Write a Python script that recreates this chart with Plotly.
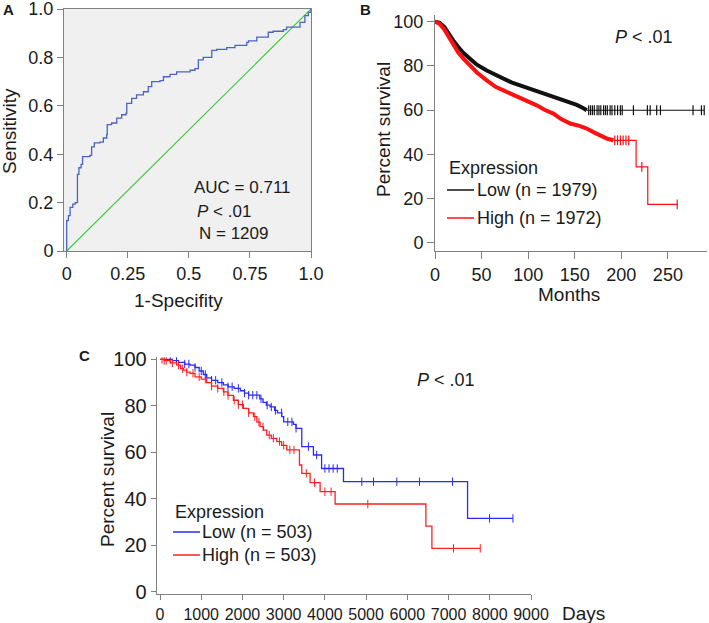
import plotly.graph_objects as go

W, H = 709, 623
FONT = "Liberation Sans, Arial, sans-serif"

# ---- A: ROC curve ----
roc_fpr = [0, 0, 0.007, 0.014, 0.025, 0.035, 0.044, 0.05, 0.059, 0.065, 0.095, 0.102, 0.113,
           0.136, 0.15, 0.164, 0.166, 0.184, 0.205, 0.225, 0.243, 0.246, 0.266, 0.286, 0.314,
           0.334, 0.348, 0.382, 0.396, 0.423, 0.45, 0.505, 0.525, 0.539, 0.559, 0.594, 0.614,
           0.655, 0.689, 0.737, 0.744, 0.778, 0.825, 0.845, 0.887, 0.9, 0.955, 0.975, 0.989, 1.0]
roc_tpr = [0, 0.126, 0.146, 0.18, 0.194, 0.2, 0.317, 0.344, 0.358, 0.39, 0.395, 0.43, 0.447,
           0.45, 0.467, 0.481, 0.522, 0.529, 0.549, 0.563, 0.57, 0.61, 0.631, 0.645, 0.658,
           0.679, 0.7, 0.704, 0.72, 0.73, 0.74, 0.747, 0.754, 0.79, 0.8, 0.829, 0.833,
           0.84, 0.85, 0.862, 0.868, 0.884, 0.904, 0.908, 0.915, 0.925, 0.945, 0.973, 0.986, 1.0]

# ---- B: survival in months ----
b_low_t = [0, 5, 10, 15, 19.7, 25, 30, 37.6, 45, 55.5, 65, 73.4, 82, 91.3, 100, 109.2, 118,
           127.1, 135, 141.4, 152.2, 159.4, 162.9]
b_low_s = [100, 99.5, 97.5, 94, 91.4, 88.5, 86, 83.2, 80.5, 77.9, 75.8, 74.2, 72.5, 71.1, 69.8,
           68.9, 67.5, 65.9, 65, 63.8, 62.3, 60.8, 59.9]
b_low_tail_t = [162.9, 289]
b_low_tail_s = [59.9, 59.9]
b_low_cens = [165, 167, 169, 171, 174, 176, 178, 181, 183, 185, 188, 190, 193, 196, 199, 201,
              213, 228, 231, 238, 242, 277, 286, 289]

b_high_t = [0, 5, 10, 15, 19.7, 25, 30, 37.6, 45, 55.5, 65, 73.4, 82, 91.3, 100, 109.2, 118,
            127.1, 135, 145.1, 155, 162.9, 170, 177.2, 185, 191.5]
b_high_s = [100, 99, 96.5, 93, 89.9, 86, 83.5, 80.2, 77, 73.4, 70.5, 68.9, 67.3, 65.9, 64, 62.1,
            60, 58.4, 56, 53.9, 52.8, 51.6, 50, 48.6, 47, 46.3]
b_high_tail_t = [191.5, 215.9, 228.4, 260.7]
b_high_tail_s = [46.3, 34.3, 17.3, 17.3]
b_high_cens = [193, 196, 199, 202, 205, 208, 222, 260]

# ---- C: survival in days ----
c_low_t = [0, 150, 300, 450, 600, 728, 850, 950, 1050, 1133, 1250, 1400, 1538, 1650, 1800,
           1950, 2050, 2150, 2347, 2420, 2500, 2580, 2671, 2780, 2850, 2954, 3000, 3237, 3300,
           3439, 3722, 3920, 4451, 7461, 8562]
c_low_s = [100, 100, 99.5, 98.7, 98, 97.5, 96.5, 95, 93.5, 92, 91, 90, 89, 88.2, 87.5, 86.5,
           85.5, 84.6, 84.6, 83, 81.5, 80.3, 79.5, 78, 77, 75.3, 73.1, 72, 70.3, 62.4, 58.8,
           53, 47.3, 31.5, 31.5]
c_low_cens = [250, 400, 600, 700, 850, 1000, 1100, 1250, 1350, 1500, 1650, 1750, 1900, 2050,
              2150, 2250, 2350, 2450, 2600, 2700, 2800, 2950, 3100, 3200, 3300, 3600, 3800,
              4000, 4100, 4200, 4300, 4896, 5179, 5745, 6295, 7097, 7995, 8562]

c_high_t = [0, 100, 250, 405, 500, 567, 650, 728, 850, 1000, 1133, 1250, 1400, 1538, 1650,
            1780, 1900, 2023, 2150, 2266, 2350, 2428, 2510, 2590, 2700, 2833, 2950, 3075, 3383,
            3439, 3641, 3884, 4248, 6450, 6596, 7769]
c_high_s = [100, 99.5, 98.5, 97.5, 96, 95.4, 94.5, 94, 92.5, 91.5, 90, 88.5, 87.5, 86, 84.5,
            82.4, 80.5, 78.9, 77, 75.3, 73, 71, 69.5, 67.4, 66, 64.6, 63, 61, 54.5, 50.9, 46.9,
            43, 37.7, 28.2, 18.6, 18.6]
c_high_cens = [50, 100, 150, 300, 450, 550, 650, 800, 950, 1100, 1250, 1400, 1550, 1650, 1800,
               1900, 2000, 2150, 2300, 2400, 2500, 2650, 2750, 2900, 3000, 3150, 3250, 3550,
               3750, 4000, 4150, 5041, 7121, 7769]


def step_at(ts, ss, t):
    v = ss[0]
    for x, y in zip(ts, ss):
        if x <= t:
            v = y
    return v


def px(x):
    return x / W


def py(y):
    return 1 - y / H


fig = go.Figure()

# A
fig.add_trace(go.Scatter(x=[0, 1], y=[0, 1], mode="lines", line=dict(color="#3ccc3c", width=1.2),
                         xaxis="x", yaxis="y", showlegend=False))
fig.add_trace(go.Scatter(x=roc_fpr, y=roc_tpr, mode="lines", line=dict(color="#4a63c4", width=1.3, shape="hv"),
                         xaxis="x", yaxis="y", showlegend=False))

# B
for t, s, tt, ts, cens, col in [(b_low_t, b_low_s, b_low_tail_t, b_low_tail_s, b_low_cens, "#111111"),
                                (b_high_t, b_high_s, b_high_tail_t, b_high_tail_s, b_high_cens, "#ff1010")]:
    fig.add_trace(go.Scatter(x=tt, y=ts, mode="lines", line=dict(color=col, width=1.2, shape="hv"),
                             xaxis="x2", yaxis="y2", showlegend=False))
    fig.add_trace(go.Scatter(x=t, y=s, mode="lines", line=dict(color=col, width=4),
                             xaxis="x2", yaxis="y2", showlegend=False))
    fig.add_trace(go.Scatter(x=cens, y=[step_at(tt, ts, c) for c in cens], mode="markers",
                             marker=dict(symbol="line-ns-open", size=7, color=col, line=dict(color=col, width=1.2)),
                             xaxis="x2", yaxis="y2", showlegend=False))

# C
for t, s, cens, col in [(c_low_t, c_low_s, c_low_cens, "#2a2aff"),
                        (c_high_t, c_high_s, c_high_cens, "#ff2020")]:
    fig.add_trace(go.Scatter(x=t, y=s, mode="lines", line=dict(color=col, width=1.3, shape="hv"),
                             xaxis="x3", yaxis="y3", showlegend=False))
    fig.add_trace(go.Scatter(x=cens, y=[step_at(t, s, c) for c in cens], mode="markers",
                             marker=dict(symbol="line-ns-open", size=6, color=col, line=dict(color=col, width=1)),
                             xaxis="x3", yaxis="y3", showlegend=False))

tickfont = dict(family=FONT, size=18, color="#1a1a1a")
axcommon = dict(showgrid=False, zeroline=False, ticks="outside", tickcolor="#808080", automargin=False,
                linecolor="#808080", showline=True, tickfont=tickfont, ticklabeloverflow="allow")

fig.update_layout(
    width=W, height=H, margin=dict(l=0, r=0, t=0, b=0, autoexpand=False),
    paper_bgcolor="white", plot_bgcolor="white",
    font=dict(family=FONT, size=18, color="#1a1a1a"),
    xaxis=dict(domain=[px(64), px(311)], range=[-0.011, 1.0], tickvals=[0, 0.25, 0.5, 0.75, 1.0],
               ticktext=["0", "0.25", "0.5", "0.75", "1.0"], mirror=True, ticklen=6, anchor="y", **axcommon),
    yaxis=dict(domain=[py(251), py(9)], range=[0, 1.0], tickvals=[0, 0.2, 0.4, 0.6, 0.8, 1.0],
               ticktext=["0", "0.2", "0.4", "0.6", "0.8", "1.0"], mirror=True, ticklen=6, anchor="x", **axcommon),
    xaxis2=dict(domain=[px(435), px(707)], range=[0, 292], tickvals=[0, 50, 100, 150, 200, 250],
                ticklen=7, anchor="y2", **axcommon),
    yaxis2=dict(domain=[py(251), py(15)], range=[-3.8, 103], tickvals=[0, 20, 40, 60, 80, 100],
                ticklen=7, anchor="x2", **axcommon),
    xaxis3=dict(domain=[px(156.7), px(531)], range=[-80, 9000], tickvals=list(range(0, 9001, 1000)),
                ticklen=5, anchor="y3", **axcommon),
    yaxis3=dict(domain=[py(594.3), py(357.3)], range=[-1.2, 100.9], tickvals=[0, 20, 40, 60, 80, 100],
                ticklen=5, anchor="x3", **axcommon),
)
fig.update_xaxes(tickfont=dict(size=16), selector=dict(anchor="y3"))
fig.update_yaxes(tickfont=dict(size=20), selector=dict(anchor="x3"))

# A box background
fig.add_shape(type="rect", xref="x domain", yref="y domain", x0=0, x1=1, y0=0, y1=1,
              fillcolor="#f0f0f0", line=dict(width=0), layer="below")

ann = []


def text(x, y, s, size=18, xanchor="center", angle=0, bold=False):
    ann.append(dict(x=px(x), y=py(y), xref="paper", yref="paper", text=("<b>%s</b>" % s) if bold else s,
                    showarrow=False, xanchor=xanchor, yanchor="middle", textangle=angle,
                    font=dict(family=FONT, size=size, color="#1a1a1a")))


text(8, 10, "A", 15, bold=True)
text(365, 10, "B", 15, bold=True)
text(84, 355, "C", 15, bold=True)

text(9, 131, "Sensitivity", 19, angle=-90)
text(178, 300, "1-Specifity", 19)
text(192, 187, "AUC = 0.711", 17, xanchor="left")
text(195, 211, "<i>P</i> < .01", 17, xanchor="left")
text(197, 233, "N = 1209", 17, xanchor="left")

text(383, 130, "Percent survival", 19, angle=-90)
text(569, 295, "Months", 19)
text(613, 37, "<i>P</i> < .01", 18, xanchor="left")
text(447, 168, "Expression", 18, xanchor="left")
text(475, 190, "Low (n = 1979)", 18, xanchor="left")
text(475, 218, "High (n = 1972)", 18, xanchor="left")

text(107, 479, "Percent survival", 19, angle=-90)
text(560, 613, "Days", 19, xanchor="left")
text(415, 380, "<i>P</i> < .01", 18, xanchor="left")
text(173, 512, "Expression", 18, xanchor="left")
text(200, 532, "Low (n = 503)", 18, xanchor="left")
text(200, 555, "High (n = 503)", 18, xanchor="left")

fig.update_layout(annotations=ann)

for x0, x1, y, col in [(447, 474, 190, "#111111"), (447, 474, 218, "#ff1010"),
                       (173, 200, 532, "#2a2aff"), (173, 200, 555, "#ff2020")]:
    fig.add_shape(type="line", xref="paper", yref="paper", x0=px(x0), x1=px(x1), y0=py(y), y1=py(y),
                  line=dict(color=col, width=1.5))

# page body has a default 8px margin; drop it so the figure sits at the top-left corner
fig.write_html("out.html", config={"displayModeBar": False},
               post_script="document.body.style.margin='0';document.body.style.overflow='hidden';")
